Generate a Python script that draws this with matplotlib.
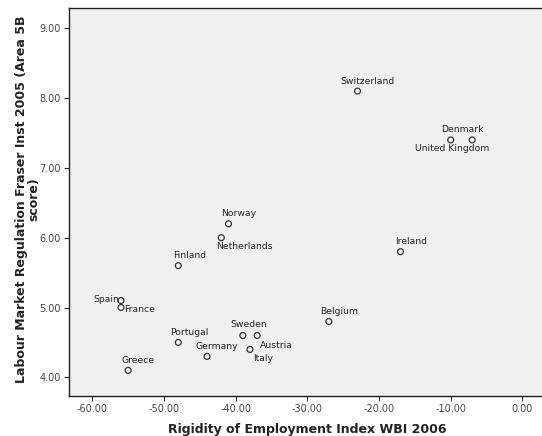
import matplotlib
matplotlib.use("Agg")
import matplotlib.pyplot as plt

countries = ["Switzerland", "Denmark", "United Kingdom", "Norway", "Netherlands",
             "Ireland", "Finland", "Spain", "France", "Belgium", "Sweden",
             "Austria", "Portugal", "Germany", "Italy", "Greece"]
rigidity = [-23, -7, -10, -41, -42, -17, -48, -56, -56, -27, -39, -37, -48, -44, -38, -55]
regulation = [8.1, 7.4, 7.4, 6.2, 6.0, 5.8, 5.6, 5.1, 5.0, 4.8, 4.6, 4.6, 4.5, 4.3, 4.4, 4.1]

x_ticks = [-60, -50, -40, -30, -20, -10, 0]
y_ticks = [4, 5, 6, 7, 8, 9]

# label placement: (dx, dy) in pixels from the point, horizontal alignment
label_pos = {
    "Switzerland": (10, 10, "center"),
    "Denmark": (-10, 10, "center"),
    "United Kingdom": (1, -9, "center"),
    "Norway": (10, 10, "center"),
    "Netherlands": (23, -9, "center"),
    "Ireland": (11, 10, "center"),
    "Finland": (11, 10, "center"),
    "Spain": (-2, 1, "right"),
    "France": (3, -2, "left"),
    "Belgium": (10, 10, "center"),
    "Sweden": (6, 11, "center"),
    "Austria": (19, -10, "center"),
    "Portugal": (11, 10, "center"),
    "Germany": (10, 10, "center"),
    "Italy": (13, -9, "center"),
    "Greece": (10, 10, "center"),
}

plt.rcParams["axes.unicode_minus"] = False
plt.rcParams["font.family"] = ["DejaVu Sans"]

fig = plt.figure(figsize=(5.42, 4.36), dpi=100)
ax = fig.add_axes([69 / 542, 40.5 / 436, 473 / 542, 387.5 / 436])
ax.set_facecolor("#f0f0f0")

ax.scatter(rigidity, regulation, s=18, facecolors="none", edgecolors="#333333",
           linewidths=0.9, zorder=3)

for name, xv, yv in zip(countries, rigidity, regulation):
    dx, dy, ha = label_pos[name]
    ax.annotate(name, (xv, yv), xytext=(dx, dy), textcoords="offset pixels",
                ha=ha, va="center", fontsize=6.7, color="#222222")

ax.set_xlim(-63.25, 2.74)
ax.set_ylim(3.74, 9.29)
ax.set_xticks(x_ticks)
ax.set_xticklabels([f"{v:.2f}" for v in x_ticks])
ax.set_yticks(y_ticks)
ax.set_yticklabels([f"{v:.2f}" for v in y_ticks])
ax.tick_params(axis="both", direction="out", length=3.6, width=0.8, labelsize=7,
               labelcolor="#444444", color="#333333", pad=2.5)

ax.spines["right"].set_visible(False)
for side in ["left", "bottom", "top"]:
    ax.spines[side].set_color("#222222")
    ax.spines[side].set_linewidth(1.0)

ax.set_xlabel("Rigidity of Employment Index WBI 2006", fontsize=9, fontweight="bold",
              color="#222222", va="baseline")
ax.set_ylabel("Labour Market Regulation Fraser Inst 2005 (Area 5B\nscore)", fontsize=9,
              fontweight="bold", color="#222222", linespacing=0.95, ha="center",
              va="center")
ax.xaxis.set_label_coords(0.503, -0.096)
ax.yaxis.set_label_coords(-0.088, 0.507)

fig.savefig("out.png", dpi=100)
